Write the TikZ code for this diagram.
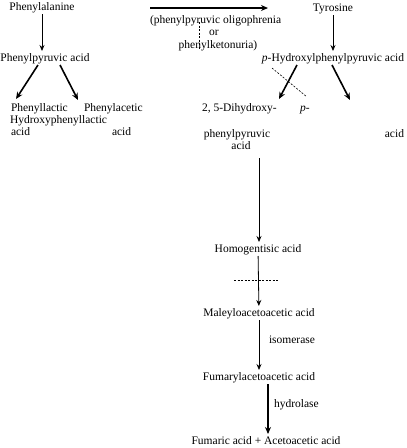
\documentclass[tikz,border=0pt]{standalone}
\usepackage{fontspec}
\setmainfont{Liberation Serif}
\usetikzlibrary{arrows.meta}
\begin{document}
\begin{tikzpicture}[x=1pt,y=-1pt,
  lbl/.style={inner sep=0pt, outer sep=2pt, font=\fontsize{11.5}{13}\selectfont, text height=8pt, text depth=2pt},
  arr/.style={-{Stealth[length=6pt,width=5pt]}, line width=0.8pt},
  tarr/.style={-{Stealth[length=7pt,width=6pt]}, line width=1.6pt},
  dsh/.style={dash pattern=on 2pt off 1.5pt, line width=0.6pt}]
\useasboundingbox (0,0) rectangle (407,448);
% left branch
\node[lbl] (phe) at (42,7) {Phenylalanine};
\node[lbl] (ppa) at (45,58) {Phenylpyruvic acid};
\node[lbl,anchor=west] (pla) at (9,108) {Phenyllactic};
\node[lbl,anchor=west] (pac) at (82,108) {Phenylacetic};
\node[lbl,anchor=west] (hpl) at (8,120) {Hydroxyphenyllactic};
\node[lbl,anchor=west] (acA) at (9,132) {acid};
\node[lbl,anchor=west] (acB) at (110,132) {acid};
\draw[arr] (phe) -- (phe |- ppa.north);
\draw[tarr] ([xshift=-7pt]ppa.south) -- ([xshift=7pt,yshift=2pt]pla.north west);
\draw[tarr] ([xshift=15pt]ppa.south) -- ([xshift=-4pt,yshift=1pt]pac.north west);
% middle note
\coordinate (hs) at (150,8);
\coordinate (he) at (268,8);
\draw[tarr] (hs) -- (he);
\node[lbl,anchor=west] (oli) at (148,20) {(phenylpyruvic oligophrenia};
\node[lbl] (or) at (214,32) {or};
\node[lbl] (pku) at (218,45) {phenylketonuria)};
\coordinate (d1) at (199,22);
\coordinate (d2) at (199,50);
\draw[dsh] (d1) -- (d2);
% right branch
\node[lbl] (tyr) at (333,8) {Tyrosine};
\node[lbl] (hpp) at (333,58) {\textit{p}-Hydroxylphenylpyruvic acid};
\draw[arr] (tyr) -- (hpp);
\node[lbl,anchor=west] (dhy) at (200,108) {2, 5-Dihydroxy-};
\node[lbl,anchor=west] (pp) at (298,108) {\textit{p}-};
\node[lbl] (ppy) at (237,134) {phenylpyruvic};
\node[lbl] (acC) at (241,146) {acid};
\node[lbl,anchor=east] (acD) at (406,134) {acid};
\coordinate (e1) at (279,99);
\coordinate (e2) at (350,100);
\draw[tarr] ([xshift=-36pt]hpp.south) -- (e1);
\draw[tarr] ([xshift=-1pt]hpp.south) -- (e2);
\coordinate (x1) at (272,68);
\coordinate (x2) at (307,97);
\draw[dsh] (x1) -- (x2);
% main chain
\node[lbl] (hom) at (258,249) {Homogentisic acid};
\coordinate (v1) at (259,158);
\draw[arr] (v1) -- (v1 |- hom.north);
\node[lbl] (mal) at (259,313) {Maleyloacetoacetic acid};
\draw[arr] (hom) -- (mal);
\coordinate (h1) at (234,280);
\coordinate (h2) at (279,280);
\draw[dsh] (h1) -- (h2);
\node[lbl] (fum) at (259,377) {Fumarylacetoacetic acid};
\draw[arr] (mal) -- (fum);
\node[lbl,anchor=west] (iso) at (267,340) {isomerase};
\node[lbl] (fin) at (266,441) {Fumaric acid + Acetoacetic acid};
\draw[tarr] ([xshift=9pt]fum.south) -- ([xshift=2pt]fin.north);
\node[lbl,anchor=west] (hyd) at (272,404) {hydrolase};
\end{tikzpicture}
\end{document}
